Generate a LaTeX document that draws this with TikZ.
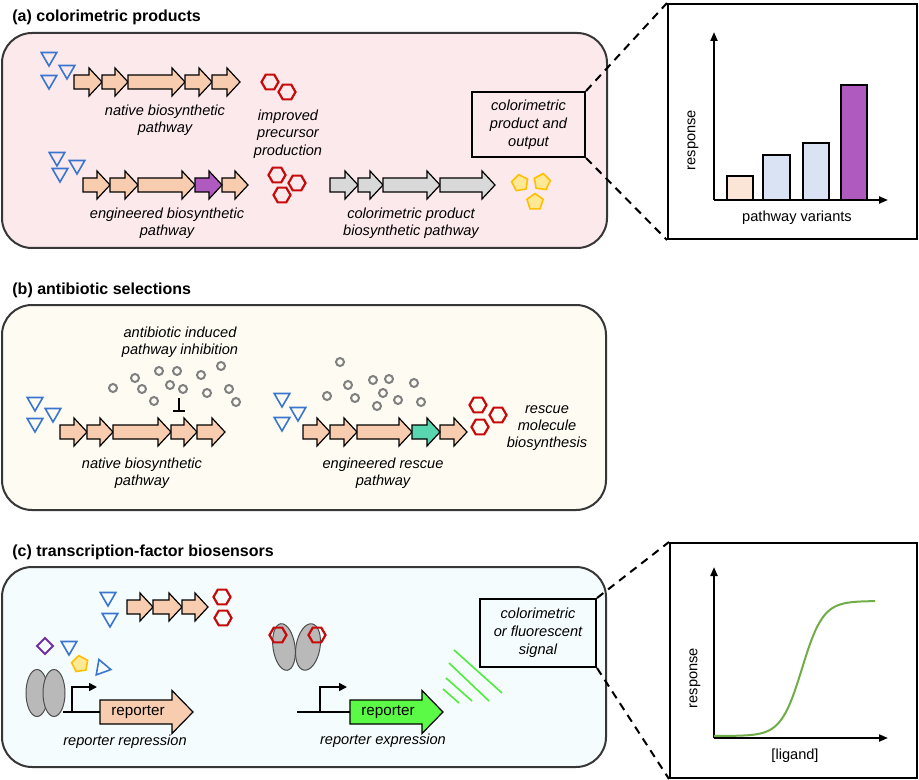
\documentclass[tikz,border=0pt]{standalone}
\usepackage{fontspec}
\setmainfont{Liberation Sans}
\usetikzlibrary{arrows.meta,positioning,shapes.geometric,calc}
\definecolor{rosa}{RGB}{252,233,236}
\definecolor{marfil}{RGB}{254,251,243}
\definecolor{celeste}{RGB}{245,252,254}
\definecolor{melocoton}{RGB}{248,204,174}
\definecolor{morado}{RGB}{175,90,190}
\definecolor{grisg}{RGB}{217,217,217}
\definecolor{turquesa}{RGB}{88,214,176}
\definecolor{azult}{RGB}{58,118,208}
\definecolor{rojoh}{RGB}{200,10,10}
\definecolor{amarillo}{RGB}{255,192,0}
\definecolor{amarillof}{RGB}{255,232,150}
\definecolor{violeta}{RGB}{112,48,160}
\definecolor{verdel}{RGB}{80,235,60}
\definecolor{verdef}{RGB}{90,250,70}
\definecolor{verdec}{RGB}{112,173,71}
\definecolor{barraa}{RGB}{251,229,214}
\definecolor{barrab}{RGB}{218,227,243}
\definecolor{borde}{RGB}{55,55,55}
\definecolor{grisc}{RGB}{128,128,128}
\definecolor{grisel}{RGB}{185,185,185}
% gene arrow: [fill] x start, x end, y centre
\newcommand{\genarrow}[4][melocoton]{%
  \draw[gen, fill=#1] (#2,#4-7) -- (#3-13,#4-7) -- (#3-13,#4-14) -- (#3,#4)
    -- (#3-13,#4+14) -- (#3-13,#4+7) -- (#2,#4+7) -- cycle;}
% reporter arrow: x start, x end, y centre, fill
\newcommand{\reporterarrow}[4]{%
  \draw[gen, fill=#4] (#1,#3-12) -- (#2-21,#3-12) -- (#2-21,#3-21.5) -- (#2,#3)
    -- (#2-21,#3+21.5) -- (#2-21,#3+12) -- (#1,#3+12) -- cycle;}
\tikzset{
  panel/.style={draw=borde, line width=1pt, rounded corners=15pt},
  titulo/.style={font=\fontsize{8}{9.6}\selectfont\bfseries, anchor=west, inner sep=0pt},
  et/.style={font=\fontsize{7.3}{8.7}\selectfont\itshape, align=center, inner sep=0pt},
  rot/.style={font=\fontsize{7.3}{8.7}\selectfont, align=center, inner sep=0pt},
  caja/.style={draw=black, line width=1pt, align=center, inner sep=0pt, font=\fontsize{7.3}{8.9}\selectfont\itshape},
  marco/.style={draw=black, line width=1pt, fill=white, inner sep=0pt},
  tri/.style={draw=azult, regular polygon, regular polygon sides=3, shape border rotate=180, minimum size=9pt, inner sep=0pt, line width=0.8pt},
  hex/.style={draw=rojoh, regular polygon, regular polygon sides=6, minimum size=8.5pt, inner sep=0pt, line width=1.1pt},
  pent/.style={draw=amarillo, fill=amarillof, regular polygon, regular polygon sides=5, minimum size=8.5pt, inner sep=0pt, line width=0.8pt},
  rombo/.style={draw=violeta, regular polygon, regular polygon sides=4, shape border rotate=45, minimum size=8pt, inner sep=0pt, line width=0.9pt},
  bola/.style={draw=grisc, circle, minimum size=4pt, inner sep=0pt, line width=1pt},
  gen/.style={draw=black, line width=0.6pt, line join=miter},
  prot/.style={draw=black!70, fill=grisel, ellipse, minimum width=11pt, minimum height=23.5pt, inner sep=0pt, line width=0.5pt},
  linea/.style={line width=0.8pt},
  prom/.style={line width=0.8pt, -{Triangle[length=4pt, width=4pt]}},
  ejes/.style={line width=1pt, -{Triangle[length=4.5pt, width=3.5pt]}},
  trazo/.style={line width=1pt, dash pattern=on 4pt off 3pt},
  senal/.style={verdel, line width=0.8pt},
}
\begin{document}
\begin{tikzpicture}[x=0.5pt, y=-0.5pt]
  \useasboundingbox (0,0) rectangle (919,780);

  % (a) colorimetric products
  \node[titulo] (ta) at (12,17) {(a) colorimetric products};
  \draw[panel, fill=rosa] (2,33) rectangle (607,248);
  \node[tri] (a1) at (49,57) {};
  \node[tri] (a2) at (67,70) {};
  \node[tri] (a3) at (49,80) {};
  \foreach \a/\b in {74/102,102/128,128/185,185/212,212/240} {\genarrow{\a}{\b}{82}}
  \node[et] (lnat) at (165,120) {native biosynthetic\\pathway};
  \node[hex] (h1) at (270,82) {};
  \node[hex] (h2) at (287,92) {};
  \node[et] (limp) at (288,134) {improved\\precursor\\production};
  \node[tri] (a4) at (57,157) {};
  \node[tri] (a5) at (77,165) {};
  \node[tri] (a6) at (60,173) {};
  \foreach \a/\b in {83/110,110/138,138/195,222/248} {\genarrow{\a}{\b}{185}}
  \genarrow[morado]{195}{222}{185}
  \node[et] (leng) at (167,223) {engineered biosynthetic\\pathway};
  \node[hex] (h3) at (277,175) {};
  \node[hex] (h4) at (297,183) {};
  \node[hex] (h5) at (282,195) {};
  \foreach \a/\b in {330/358,358/383,383/440,440/495} {\genarrow[grisg]{\a}{\b}{185}}
  \node[et] (lcol) at (411,223) {colorimetric product\\biosynthetic pathway};
  \node[pent, shape border rotate=10] (p1) at (520,183) {};
  \node[pent, shape border rotate=-8] (p2) at (542,182) {};
  \node[pent] (p3) at (535,202) {};
  \node[caja, minimum width=56.5pt, minimum height=32.5pt] (ca) at (528.5,124.5)
    {colorimetric\\product and\\output};
  \node[marco, minimum width=124.5pt, minimum height=117.5pt] (ga) at (792.5,121.5) {};
  \draw[trazo] (ca.north east) -- (ga.north west);
  \draw[trazo] (ca.south east) -- (ga.south west);
  \draw[ejes] (714,200) -- (714,32);
  \draw[ejes] (714,200) -- (888,200);
  \draw[line width=0.6pt, fill=barraa] (727,200) rectangle (753,176);
  \draw[line width=0.6pt, fill=barrab] (763,200) rectangle (790,155);
  \draw[line width=0.6pt, fill=barrab] (803,200) rectangle (829,143);
  \draw[line width=0.6pt, fill=morado] (841,200) rectangle (867,85);
  \node[rot, rotate=90] (ra) at (693,140) {response};
  \node[rot] (xa) at (797,218) {pathway variants};

  % (b) antibiotic selections
  \node[titulo] (tb) at (12,290) {(b) antibiotic selections};
  \draw[panel, fill=marfil] (2,305) rectangle (606,510);
  \node[tri] (b1) at (35,402) {};
  \node[tri] (b2) at (53,413) {};
  \node[tri] (b3) at (35,423) {};
  \foreach \a/\b in {60/87,87/113,113/171,171/197,197/225} {\genarrow{\a}{\b}{432}}
  \foreach \x/\y in {113/388,135/378,142/389,154/401,159/371,170/385,177/371,
      183/389,201/375,207/393,221/366,229/389,236/402} {\node[bola] (bo\x) at (\x,\y) {};}
  \draw[linea] (179,398) -- (179,411);
  \draw[linea] (173,411) -- (185,411);
  \node[et] (linh) at (180,342) {antibiotic induced\\pathway inhibition};
  \node[et] (lnat2) at (142,473) {native biosynthetic\\pathway};
  \node[tri] (b4) at (282,398) {};
  \node[tri] (b5) at (298,412) {};
  \node[tri] (b6) at (282,422) {};
  \foreach \a/\b in {303/330,330/357,357/412,440/467} {\genarrow{\a}{\b}{432}}
  \genarrow[turquesa]{412}{440}{432}
  \foreach \x/\y in {340/362,348/385,327/396,355/398,373/380,389/379,383/393,
      377/406,398/400,414/383,421/402} {\node[bola] (bo\x) at (\x,\y) {};}
  \node[hex] (h6) at (478,405) {};
  \node[hex] (h7) at (498,415) {};
  \node[hex] (h8) at (480,427) {};
  \node[et] (lres) at (547,428) {rescue\\molecule\\biosynthesis};
  \node[et] (lerp) at (383,473) {engineered rescue\\pathway};

  % (c) transcription-factor biosensors
  \node[titulo] (tc) at (12,552) {(c) transcription-factor biosensors};
  \draw[panel, fill=celeste] (2,567) rectangle (606,767);
  \node[tri] (c1) at (108,597) {};
  \node[tri] (c2) at (110,618) {};
  \foreach \a/\b in {127/153,153/182,182/208} {\genarrow{\a}{\b}{607}}
  \node[hex] (h9) at (222,597) {};
  \node[hex] (h10) at (223,618) {};
  \node[rombo] (d1) at (45,646) {};
  \node[tri] (c3) at (69,646) {};
  \node[pent, shape border rotate=8] (p4) at (80,664) {};
  \node[tri, shape border rotate=-100] (c4) at (102,668) {};
  \node[prot] (r1) at (37,693) {};
  \node[prot] (r2) at (54,693) {};
  \reporterarrow{100}{193}{712}{melocoton}
  \node[rot, font=\fontsize{7.6}{9}\selectfont] (rep1) at (138,712) {reporter};
  \draw[linea] (63,712) -- (100,712);
  \draw[prom] (72,712) -- (72,687) -- (97,687);
  \node[et] (lrr) at (125,742) {reporter repression};
  \node[prot, rotate=8] (r3) at (284,647) {};
  \node[prot, rotate=-10, minimum width=12pt] (r4) at (308,647) {};
  \node[hex] (h11) at (278,635) {};
  \node[hex] (h12) at (317,635) {};
  \draw[linea] (297,712) -- (350,712);
  \draw[prom] (320,712) -- (320,687) -- (347,687);
  \reporterarrow{350}{443}{712}{verdef}
  \node[rot, font=\fontsize{7.6}{9}\selectfont] (rep2) at (388,712) {reporter};
  \node[et] (lre) at (383,741) {reporter expression};
  \draw[senal] (454,650) -- (502,693);
  \draw[senal] (449,663) -- (489,701);
  \draw[senal] (446,678) -- (472,701);
  \draw[senal] (443,689) -- (459,703);
  \node[caja, minimum width=58pt, minimum height=34pt] (cc) at (538,633)
    {colorimetric\\or fluorescent\\signal};
  \node[marco, minimum width=123.5pt, minimum height=117.5pt] (gc) at (793.5,660.5) {};
  \draw[trazo] (cc.north east) -- (gc.north west);
  \draw[trazo] (cc.south east) -- (gc.south west);
  \draw[ejes] (714,738) -- (714,567);
  \draw[ejes] (714,738) -- (888,738);
  \draw[verdec, line width=1pt] plot[domain=714:875, samples=80, smooth]
    (\x, {736-135/(1+exp(-(\x-802)/10.5))});
  \node[rot, rotate=90] (rc) at (695,678) {response};
  \node[rot] (xc) at (795,756) {[ligand]};
\end{tikzpicture}
\end{document}
